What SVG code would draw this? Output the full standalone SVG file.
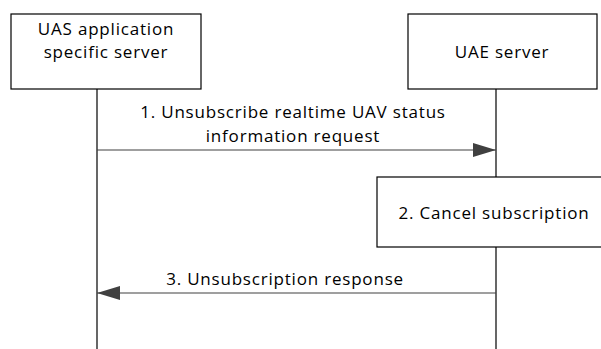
<svg xmlns="http://www.w3.org/2000/svg" width="601" height="349" viewBox="0 0 601 349">
<style>
.box{fill:#fff;stroke:#000;stroke-width:1.2}
.life{stroke:#000;stroke-width:1.2;fill:none}
.msg{stroke:#404040;stroke-width:1.2;fill:none}
text{font-family:"Open Sans","Liberation Sans",sans-serif;font-size:17px;letter-spacing:0.8px;fill:#000;text-anchor:middle}
</style>
<defs>
<marker id="ah" markerWidth="24" markerHeight="14" refX="23" refY="7" orient="auto" markerUnits="userSpaceOnUse">
<path d="M0,0 L23,7 L0,14 Z" fill="#404040"/>
</marker>
</defs>
<g id="lifelines">
<line class="life" x1="97" y1="89" x2="97" y2="349"/>
<line class="life" x1="496" y1="89" x2="496" y2="349"/>
</g>
<g id="uas">
<rect class="box" x="11" y="14" width="190" height="75"/>
<text x="106" y="35">UAS application</text>
<text x="106" y="58">specific server</text>
</g>
<g id="uae">
<rect class="box" x="408" y="14" width="189" height="75"/>
<text x="502" y="58">UAE server</text>
</g>
<g id="cancel">
<rect class="box" x="377" y="177" width="230" height="70"/>
<text x="494" y="219">2. Cancel subscription</text>
</g>
<g id="connectors">
<line class="msg" x1="97" y1="150" x2="496" y2="150" marker-end="url(#ah)"/>
<text x="293" y="118">1. Unsubscribe realtime UAV status</text>
<text x="293" y="142">information request</text>
<line class="msg" x1="496" y1="293" x2="97" y2="293" marker-end="url(#ah)"/>
<text x="285" y="285">3. Unsubscription response</text>
</g>
</svg>
